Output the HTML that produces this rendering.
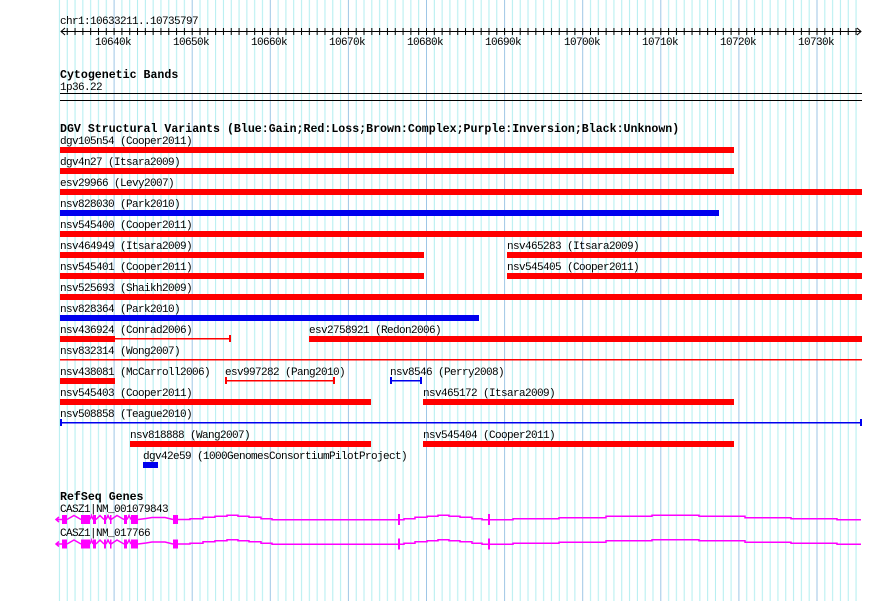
<!DOCTYPE html>
<html><head><meta charset="utf-8"><style>
html,body{margin:0;padding:0;background:#fff;}
svg{display:block;}
text{font-family:"Liberation Mono",monospace;font-size:11px;letter-spacing:-0.6px;fill:#000;}
.h{font-weight:bold;font-size:11.6px;letter-spacing:0;}
</style></head><body>
<svg width="890" height="601" viewBox="0 0 890 601" xmlns="http://www.w3.org/2000/svg">
<defs>
<pattern id="g" patternUnits="userSpaceOnUse" x="35.5" y="0" width="78.1" height="601">
<rect x="0" y="0" width="1" height="601" fill="#9ec6e6"/>
<rect x="7.81" y="0" width="1" height="601" fill="#b2eef0"/>
<rect x="15.62" y="0" width="1" height="601" fill="#b2eef0"/>
<rect x="23.43" y="0" width="1" height="601" fill="#b2eef0"/>
<rect x="31.24" y="0" width="1" height="601" fill="#b2eef0"/>
<rect x="39.05" y="0" width="1" height="601" fill="#b2eef0"/>
<rect x="46.86" y="0" width="1" height="601" fill="#b2eef0"/>
<rect x="54.67" y="0" width="1" height="601" fill="#b2eef0"/>
<rect x="62.48" y="0" width="1" height="601" fill="#b2eef0"/>
<rect x="70.29" y="0" width="1" height="601" fill="#b2eef0"/>
</pattern>
<pattern id="t" patternUnits="userSpaceOnUse" x="35.5" y="0" width="7.81" height="601">
<rect x="0" y="28" width="1" height="7" fill="#000"/>
</pattern>
</defs>
<rect x="58" y="0" width="804" height="601" fill="url(#g)"/>
<!-- ruler -->
<text x="60" y="24">chr1:10633211..10735797</text>
<rect x="61" y="31" width="800" height="1" fill="#000"/>
<rect x="62" y="28" width="798" height="7" fill="url(#t)"/>
<path d="M65 28 L61 31.5 L65 35 M857 28 L861 31.5 L857 35" stroke="#000" fill="none"/>
<text x="95" y="45">10640k</text><text x="173" y="45">10650k</text><text x="251" y="45">10660k</text>
<text x="329" y="45">10670k</text><text x="407" y="45">10680k</text><text x="485" y="45">10690k</text>
<text x="564" y="45">10700k</text><text x="642" y="45">10710k</text><text x="720" y="45">10720k</text>
<text x="798" y="45">10730k</text>
<!-- cytobands -->
<text class="h" x="60" y="78">Cytogenetic Bands</text>
<text x="60" y="90">1p36.22</text>
<rect x="60" y="93" width="802" height="1" fill="#000"/>
<rect x="60" y="100" width="802" height="1" fill="#000"/>
<!-- DGV -->
<text class="h" x="60" y="132">DGV Structural Variants (Blue:Gain;Red:Loss;Brown:Complex;Purple:Inversion;Black:Unknown)</text>
<g fill="red">
<text x="60" y="144">dgv105n54 (Cooper2011)</text><rect x="60" y="147" width="674" height="6"/>
<text x="60" y="165">dgv4n27 (Itsara2009)</text><rect x="60" y="168" width="674" height="6"/>
<text x="60" y="186">esv29966 (Levy2007)</text><rect x="60" y="189" width="802" height="6"/>
<text x="60" y="207">nsv828030 (Park2010)</text><rect x="60" y="210" width="659" height="6" fill="#0000ee"/>
<text x="60" y="228">nsv545400 (Cooper2011)</text><rect x="60" y="231" width="802" height="6"/>
<text x="60" y="249">nsv464949 (Itsara2009)</text><rect x="60" y="252" width="364" height="6"/>
<text x="507" y="249">nsv465283 (Itsara2009)</text><rect x="507" y="252" width="355" height="6"/>
<text x="60" y="270">nsv545401 (Cooper2011)</text><rect x="60" y="273" width="364" height="6"/>
<text x="507" y="270">nsv545405 (Cooper2011)</text><rect x="507" y="273" width="355" height="6"/>
<text x="60" y="291">nsv525693 (Shaikh2009)</text><rect x="60" y="294" width="802" height="6"/>
<text x="60" y="312">nsv828364 (Park2010)</text><rect x="60" y="315" width="419" height="6" fill="#0000ee"/>
<text x="60" y="333">nsv436924 (Conrad2006)</text><rect x="60" y="336" width="55" height="6"/>
<rect x="115" y="338" width="116" height="1.5"/><rect x="229" y="335" width="2" height="7"/>
<text x="309" y="333">esv2758921 (Redon2006)</text><rect x="309" y="336" width="553" height="6"/>
<text x="60" y="354">nsv832314 (Wong2007)</text><rect x="60" y="359" width="802" height="1.5"/>
<text x="60" y="375">nsv438081 (McCarroll2006)</text><rect x="60" y="378" width="55" height="6"/>
<text x="225" y="375">esv997282 (Pang2010)</text><rect x="226" y="380" width="108" height="1.5"/>
<rect x="225" y="377" width="2" height="7"/><rect x="333" y="377" width="2" height="7"/>
<text x="390" y="375">nsv8546 (Perry2008)</text>
<rect x="391" y="380" width="30" height="1.5" fill="#0000ee"/><rect x="390" y="377" width="2" height="7" fill="#0000ee"/><rect x="420" y="377" width="2" height="7" fill="#0000ee"/>
<text x="60" y="396">nsv545403 (Cooper2011)</text><rect x="60" y="399" width="311" height="6"/>
<text x="423" y="396">nsv465172 (Itsara2009)</text><rect x="423" y="399" width="311" height="6"/>
<text x="60" y="417">nsv508858 (Teague2010)</text>
<rect x="60" y="422" width="802" height="1.5" fill="#0000ee"/><rect x="60" y="419" width="2" height="7" fill="#0000ee"/><rect x="860" y="419" width="2" height="7" fill="#0000ee"/>
<text x="130" y="438">nsv818888 (Wang2007)</text><rect x="130" y="441" width="241" height="6"/>
<text x="423" y="438">nsv545404 (Cooper2011)</text><rect x="423" y="441" width="311" height="6"/>
<text x="143" y="459">dgv42e59 (1000GenomesConsortiumPilotProject)</text><rect x="143" y="462" width="15" height="6" fill="#0000ee"/>
</g>
<!-- RefSeq -->
<text class="h" x="60" y="500">RefSeq Genes</text>
<text x="60" y="512">CASZ1|NM_001079843</text>
<text x="60" y="536">CASZ1|NM_017766</text>
<g id="gene">
<path d="M56 519.5 L62 519.5 M59 517 L56 519.5 L59 522 M67 519.5 L74 515.5 L81 519.5 M90 519.5 L91.5 515.5 L93 519.5 M96 519.5 L100 515.5 L104 519.5 M106 519.5 L108 515.5 L110 519.5 M111 519.5 L117 515.5 L124 519.5 M127 519.5 L129 515.5 L131 519.5 M138 519.5 L146 518.5 L152 517.5 L165 517.5 L173 519.5 M178 519.5 L190 519.5 L190 518.7 L203 518.7 L203 517.3 L215 517.3 L215 516.3 L227 516.3 L227 515.3 L238 515.3 L238 516.3 L249 516.3 L249 517.3 L261 517.3 L261 518.7 L272 518.7 L272 519.7 L399 519.7 M399 519.7 L404 519.7 L404 518.7 L415 518.7 L415 517.3 L427 517.3 L427 516.3 L438 516.3 L438 515.3 L449 515.3 L449 516.3 L460 516.3 L460 517.3 L472 517.3 L472 518.7 L482 518.7 L482 519.7 L513 519.7 L513 518.7 L559 518.7 L559 517.7 L606 517.7 L606 516.3 L652 516.3 L652 515.3 L699 515.3 L699 516.3 L745 516.3 L745 517.7 L791 517.7 L791 518.7 L837 518.7 L837 519.7 L861 519.7" stroke="#ff00ff" stroke-width="1.5" fill="none"/>
<g fill="#ff00ff">
<rect x="62" y="515" width="5" height="9"/><rect x="81" y="515" width="9" height="9"/>
<rect x="93" y="515" width="3" height="9"/><rect x="104" y="515" width="2" height="9"/>
<rect x="110" y="515" width="1.5" height="9"/><rect x="124" y="515" width="3" height="9"/>
<rect x="131" y="515" width="7" height="9"/><rect x="173" y="515" width="5" height="9"/>
<rect x="398" y="514" width="2" height="11"/><rect x="488" y="514" width="2" height="11"/>
</g>
</g>
<use href="#gene" x="0" y="24.5"/>
</svg>
</body></html>
